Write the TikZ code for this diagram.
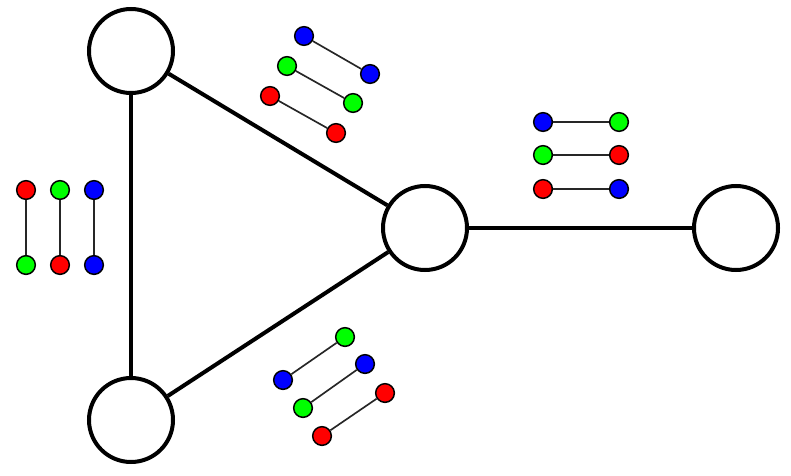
\documentclass[tikz,border=0pt]{standalone}
\usepackage{xcolor}
\usetikzlibrary{positioning}

\begin{document}
\begin{tikzpicture}[x=0.03cm,y=-0.03cm,
  vertex/.style={circle,draw=black,fill=white,line width=0.12cm,minimum size=2.52cm,inner sep=0pt},
  dot/.style={circle,draw=black,line width=0.045cm,minimum size=0.56cm,inner sep=0pt},
  edge/.style={line width=0.12cm},
  link/.style={line width=0.05cm,black!85}]
\useasboundingbox (0,0) rectangle (791,475);
\node[vertex] (tl) at (131,51) {};
\node[vertex] (bl) at (131,420) {};
\node[vertex] (mid) at (425,228) {};
\node[vertex] (rt) at (736,228) {};
\draw[edge] (tl) -- (bl);
\draw[edge] (tl) -- (mid);
\draw[edge] (bl) -- (mid);
\draw[edge] (mid) -- (rt);
% colour pairs beside each edge
\foreach \n/\xa/\ya/\ca/\xb/\yb/\cb in {
  l1/26/190/red/26/265/green, l2/60/190/green/60/265/red, l3/94/190/blue/94/265/blue,
  u1/304/36/blue/370/74/blue, u2/287/66/green/353/103/green, u3/270/96/red/336/133/red,
  d1/345/337/green/283/380/blue, d2/365/364/blue/303/408/green, d3/385/393/red/322/436/red,
  r1/543/122/blue/619/122/green, r2/543/155/green/619/155/red, r3/543/189/red/619/189/blue} {
  \node[dot,fill=\ca] (\n a) at (\xa,\ya) {};
  \node[dot,fill=\cb] (\n b) at (\xb,\yb) {};
  \draw[link] (\n a) -- (\n b);
}
\end{tikzpicture}
\end{document}
